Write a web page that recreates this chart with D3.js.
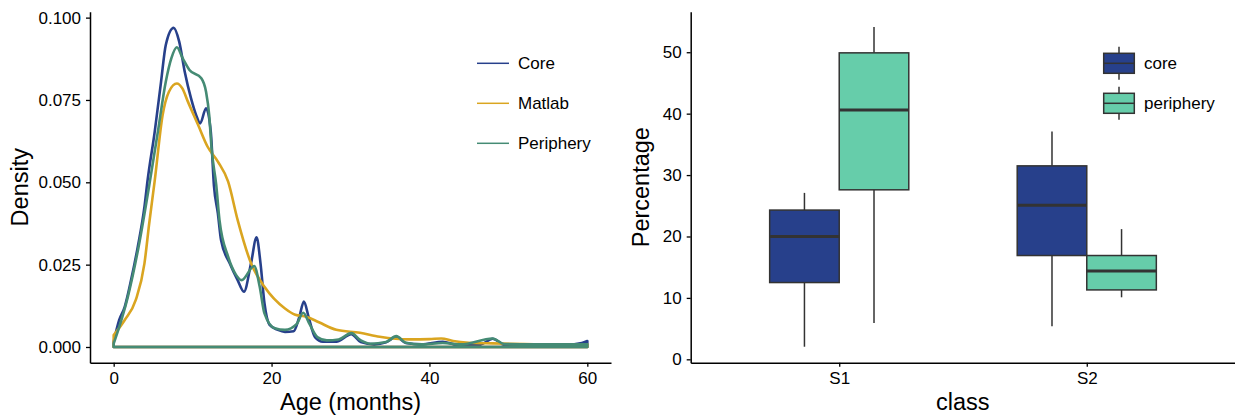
<!DOCTYPE html>
<meta charset="utf-8">
<html>
<script src="https://d3js.org/d3.v7.min.js"></script>
<style>
  body { margin: 0; background: #fff; }
  text { font-family: "Liberation Sans", Arial, sans-serif; fill: #000; }
</style>
<body>
<div id="chart"></div>
<script>

// density curves (age in months, density)
const seriesNames = ["Core", "Matlab", "Periphery"];
const seriesColors = ["#27408B", "#DAA520", "#458B74"];

const coreAge = [0, 0.7, 1.4, 2.2, 3.05, 3.9, 4.3, 5.2, 6.0, 6.6, 7.6, 8.3, 9.0, 9.8, 10.45, 10.96, 11.7, 12.3, 12.7, 13.2, 13.6, 14.7, 15.7, 16.5, 17.4, 18.1, 18.6, 19.1, 19.75, 20.8, 21.7, 22.8, 23.5, 24.1, 24.7, 25.5, 26.5, 28.2, 30.1, 31.3, 33, 34.5, 35.8, 37, 39, 41.7, 43.5, 46.5, 48, 49.5, 53, 57, 59.3, 60];
const coreDensity = [0.0016, 0.0082, 0.0122, 0.0203, 0.0304, 0.0426, 0.0507, 0.0654, 0.0805, 0.0917, 0.0969, 0.0927, 0.0836, 0.0755, 0.0704, 0.0679, 0.0725, 0.0654, 0.049, 0.0406, 0.0325, 0.0254, 0.0203, 0.0168, 0.0254, 0.0333, 0.0254, 0.0133, 0.0067, 0.0052, 0.0046, 0.0048, 0.009, 0.0138, 0.009, 0.003, 0.0016, 0.0016, 0.0039, 0.0015, 0.0008, 0.0014, 0.0031, 0.0012, 0.0008, 0.0016, 0.0007, 0.0008, 0.0025, 0.0007, 0.0006, 0.0006, 0.0012, 0.0018];

const matlabAge = [0, 1.4, 2.8, 3.9, 4.5, 5.2, 6.2, 7.0, 8.0, 8.7, 9.4, 10.7, 11.9, 13.2, 14.5, 15.7, 17.4, 19.1, 21.7, 23, 24.4, 26, 28.2, 31.2, 33.7, 37.5, 40, 41.5, 43, 45, 48, 52, 56, 60];
const matlabDensity = [0.0036, 0.0082, 0.0143, 0.0254, 0.0375, 0.0505, 0.0704, 0.0775, 0.080, 0.0785, 0.0745, 0.0674, 0.0608, 0.0563, 0.0502, 0.0386, 0.0254, 0.0183, 0.0117, 0.0098, 0.0092, 0.0075, 0.0052, 0.0043, 0.0031, 0.0023, 0.0024, 0.0026, 0.0018, 0.0013, 0.0011, 0.0009, 0.0008, 0.0008];

const periAge = [0, 1.8, 3.2, 4.5, 5.6, 6.6, 7.3, 8.0, 8.75, 9.6, 11.1, 11.7, 12.1, 12.4, 13.0, 13.4, 14.5, 15.5, 16.2, 17.8, 18.5, 19.1, 20.4, 21.7, 23.2, 24, 24.8, 25.8, 27, 28.5, 30.1, 31.3, 32.5, 34.5, 35.8, 37, 39, 41.7, 44, 48, 49.5, 53, 57, 60];
const periDensity = [0.001, 0.0153, 0.031, 0.049, 0.0654, 0.0805, 0.0876, 0.091, 0.0876, 0.0841, 0.0816, 0.0775, 0.0704, 0.0603, 0.049, 0.0386, 0.0274, 0.0219, 0.0203, 0.0246, 0.0183, 0.0102, 0.0057, 0.0052, 0.007, 0.0104, 0.007, 0.003, 0.002, 0.0023, 0.0042, 0.002, 0.001, 0.0015, 0.0033, 0.0013, 0.0008, 0.0012, 0.0008, 0.0026, 0.0009, 0.0008, 0.0008, 0.0008];

const densityTicks = [0, 0.025, 0.05, 0.075, 0.1];
const ageTicks = [0, 20, 40, 60];

// boxplot stats: [lower whisker, Q1, median, Q3, upper whisker]
const classes = ["S1", "S2"];
const groups = ["core", "periphery"];
const groupColors = ["#27408B", "#66CDAA"];
const coreStats = [[2.05, 12.5, 20.0, 24.3, 27.1], [5.4, 16.9, 25.1, 31.5, 37.1]];
const peripheryStats = [[5.9, 27.6, 40.6, 49.9, 54.1], [10.1, 11.3, 14.4, 16.9, 21.2]];
const pctTicks = [0, 10, 20, 30, 40, 50];

const W = 1235, H = 420;
const svg = d3.select("#chart").append("svg")
  .attr("width", W).attr("height", H);

const plotTop = 11.7, plotBottom = 362.7;
const tickFont = 17, titleFont = 23.5;

// ---------- left panel: density ----------
const x = d3.scaleLinear().domain([-3, 63]).range([90, 611]);
const y = d3.scaleLinear().domain([-0.00477, 0.1018]).range([plotBottom, plotTop]);

const left = svg.append("g");

const area = d3.area()
  .x(d => x(d[0]))
  .y0(y(0))
  .y1(d => y(d[1]))
  .curve(d3.curveMonotoneX);

const seriesData = [
  d3.zip(coreAge, coreDensity),
  d3.zip(matlabAge, matlabDensity),
  d3.zip(periAge, periDensity)
];

left.selectAll("path.dens")
  .data(seriesData)
  .join("path")
  .attr("class", "dens")
  .attr("d", area)
  .attr("fill", "none")
  .attr("stroke", (d, i) => seriesColors[i])
  .attr("stroke-width", 2.6)
  .attr("stroke-linejoin", "round");

const xAxis = left.append("g")
  .attr("transform", `translate(0,${plotBottom})`)
  .call(d3.axisBottom(x).tickValues(ageTicks).tickSize(4).tickSizeOuter(0).tickPadding(5));
const yAxis = left.append("g")
  .attr("transform", `translate(90,0)`)
  .call(d3.axisLeft(y).tickValues(densityTicks).tickFormat(d3.format(".3f")).tickSize(4).tickSizeOuter(0).tickPadding(5));

[xAxis, yAxis].forEach(a => {
  a.select(".domain").attr("stroke", "#000").attr("stroke-width", 1.5);
  a.selectAll(".tick line").attr("stroke", "#000").attr("stroke-width", 1.3);
  a.selectAll("text").attr("font-size", tickFont).attr("fill", "#000");
});

left.append("text")
  .attr("x", (90 + 611) / 2).attr("y", 410)
  .attr("text-anchor", "middle").attr("font-size", titleFont)
  .text("Age (months)");
left.append("text")
  .attr("transform", `translate(28,${(plotTop + plotBottom) / 2}) rotate(-90)`)
  .attr("text-anchor", "middle").attr("font-size", titleFont)
  .text("Density");

// legend
const leg = left.append("g");
seriesNames.forEach((s, i) => {
  const ly = 63.3 + i * 40;
  leg.append("line")
    .attr("x1", 477).attr("x2", 509).attr("y1", ly).attr("y2", ly)
    .attr("stroke", seriesColors[i]).attr("stroke-width", 1.5);
  leg.append("text")
    .attr("x", 518).attr("y", ly).attr("dy", "0.35em")
    .attr("font-size", tickFont).text(s);
});

// ---------- right panel: boxplot ----------
const xb = d3.scalePoint().domain(classes).range([690.7, 1235.3]).padding(0.6);
const yb = d3.scaleLinear().domain([-0.55, 56.6]).range([plotBottom, plotTop]);
const step = xb.step();
const bw = step * 0.281;

const right = svg.append("g");
const statsByGroup = [coreStats, peripheryStats];

groups.forEach((g, gi) => {
  classes.forEach((c, ci) => {
    const s = statsByGroup[gi][ci];
    const x0 = xb(c) + (gi === 0 ? -bw : 0);
    const cx = x0 + bw / 2;
    const box = right.append("g");
    box.append("line")
      .attr("x1", cx).attr("x2", cx).attr("y1", yb(s[4])).attr("y2", yb(s[3]))
      .attr("stroke", "#333").attr("stroke-width", 1.5);
    box.append("line")
      .attr("x1", cx).attr("x2", cx).attr("y1", yb(s[1])).attr("y2", yb(s[0]))
      .attr("stroke", "#333").attr("stroke-width", 1.5);
    box.append("rect")
      .attr("x", x0).attr("y", yb(s[3]))
      .attr("width", bw).attr("height", yb(s[1]) - yb(s[3]))
      .attr("fill", groupColors[gi]).attr("stroke", "#333").attr("stroke-width", 1.5);
    box.append("line")
      .attr("x1", x0).attr("x2", x0 + bw).attr("y1", yb(s[2])).attr("y2", yb(s[2]))
      .attr("stroke", "#333").attr("stroke-width", 3);
  });
});

const xbAxis = right.append("g")
  .attr("transform", `translate(0,${plotBottom})`)
  .call(d3.axisBottom(xb).tickSize(4).tickSizeOuter(0).tickPadding(5));
const ybAxis = right.append("g")
  .attr("transform", `translate(690.7,0)`)
  .call(d3.axisLeft(yb).tickValues(pctTicks).tickSize(4).tickSizeOuter(0).tickPadding(5));

[xbAxis, ybAxis].forEach(a => {
  a.select(".domain").attr("stroke", "#000").attr("stroke-width", 1.5);
  a.selectAll(".tick line").attr("stroke", "#000").attr("stroke-width", 1.3);
  a.selectAll("text").attr("font-size", tickFont).attr("fill", "#000");
});

right.append("text")
  .attr("x", (690.7 + 1235) / 2).attr("y", 410)
  .attr("text-anchor", "middle").attr("font-size", titleFont)
  .text("class");
right.append("text")
  .attr("transform", `translate(648.5,${(plotTop + plotBottom) / 2}) rotate(-90)`)
  .attr("text-anchor", "middle").attr("font-size", titleFont)
  .text("Percentage");

// legend
groups.forEach((g, i) => {
  const cy = 63.3 + i * 40;
  const kx = 1103.7, kw = 30.6;
  const k = right.append("g");
  k.append("line")
    .attr("x1", kx + kw / 2).attr("x2", kx + kw / 2).attr("y1", cy - 16.5).attr("y2", cy + 16.5)
    .attr("stroke", "#333").attr("stroke-width", 1.5);
  k.append("rect")
    .attr("x", kx).attr("y", cy - 10).attr("width", kw).attr("height", 20)
    .attr("fill", groupColors[i]).attr("stroke", "#333").attr("stroke-width", 1.5);
  k.append("line")
    .attr("x1", kx).attr("x2", kx + kw).attr("y1", cy).attr("y2", cy)
    .attr("stroke", "#333").attr("stroke-width", 1.5);
  k.append("text")
    .attr("x", 1144).attr("y", cy).attr("dy", "0.35em")
    .attr("font-size", tickFont).text(g);
});

</script>
</body>
</html>
